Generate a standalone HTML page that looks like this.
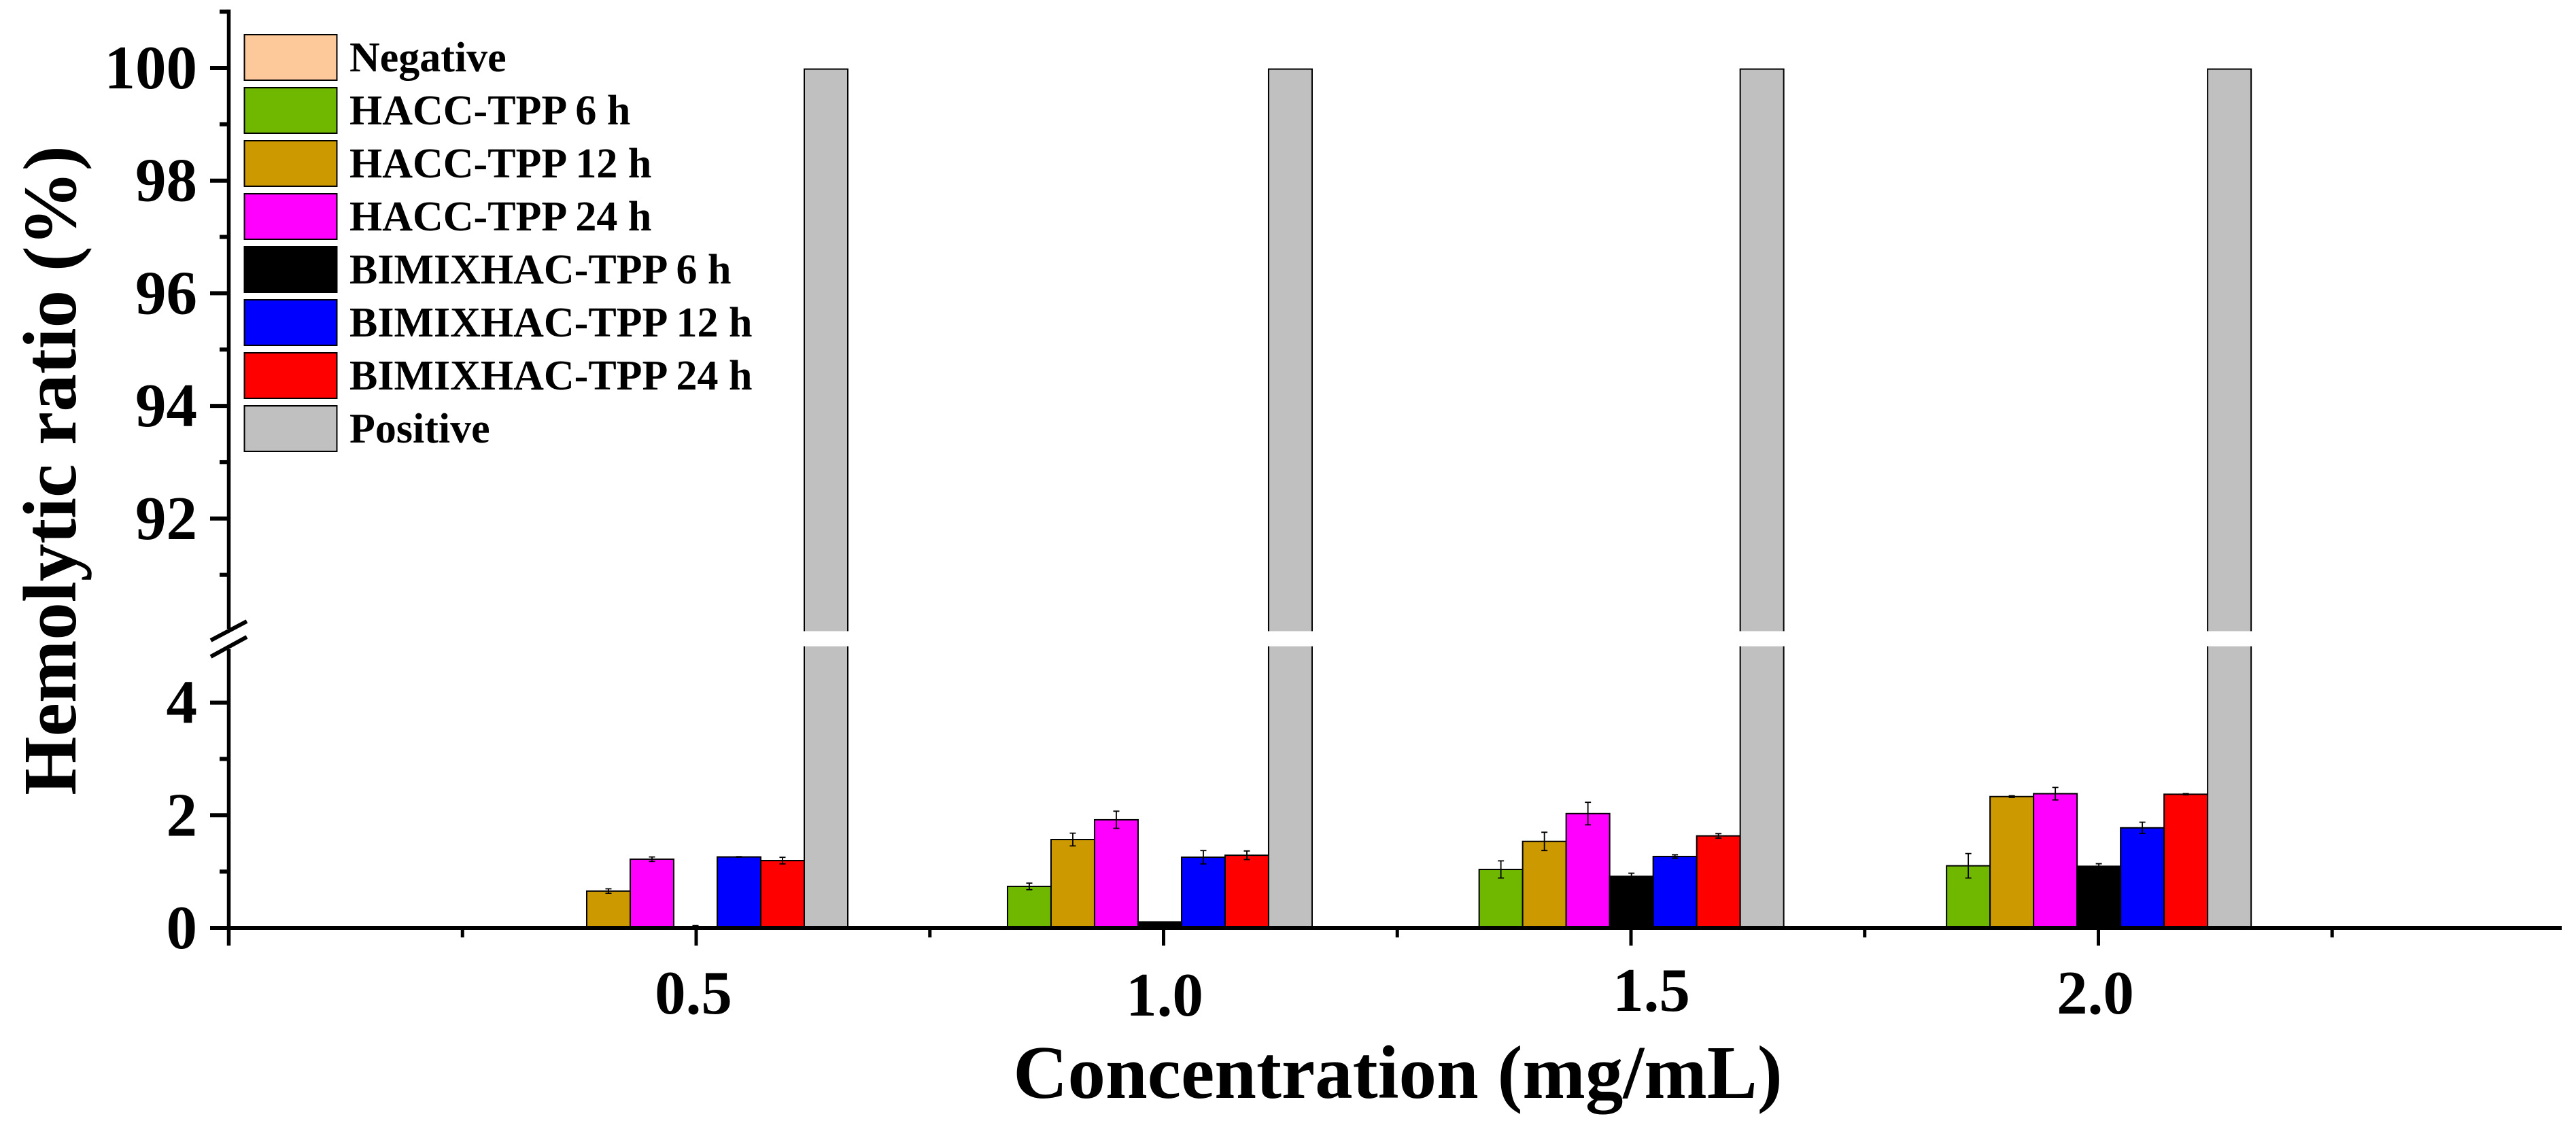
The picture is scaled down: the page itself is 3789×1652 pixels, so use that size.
<!DOCTYPE html>
<html lang="en">
<head>
<meta charset="utf-8">
<title>Hemolytic ratio chart</title>
<style>
  html, body { margin: 0; padding: 0; background: #fff; }
  svg { display: block; }
  text { font-family: "Liberation Serif", serif; font-weight: bold; fill: #000; }
</style>
</head>
<body>
<svg id="chart" xmlns="http://www.w3.org/2000/svg" width="3789" height="1652" viewBox="0 0 3789 1652">
  <rect x="0" y="0" width="3789" height="1652" fill="#fff"/>
  <g id="bars"></g>
  <g id="errors"></g>
  <g id="axes"></g>
  <g id="legend"></g>
  <text x="1020" y="1491" font-size="91" text-anchor="middle">0.5</text>
  <text x="1713" y="1494" font-size="91" text-anchor="middle">1.0</text>
  <text x="2429" y="1487" font-size="91" text-anchor="middle">1.5</text>
  <text x="3082" y="1491" font-size="91" text-anchor="middle">2.0</text>
  <text x="2056" y="1615" font-size="111" text-anchor="middle">Concentration (mg/mL)</text>
  <text transform="translate(111,692) rotate(-90)" font-size="111" text-anchor="middle">Hemolytic ratio (%)</text>
</svg>
<script>
// ---- data ----
const categories = ["0.5", "1.0", "1.5", "2.0"];
const groupX = [0.476, 0.9727, 1.4772, 1.9772];
const seriesNames = ["Negative", "HACC-TPP 6 h", "HACC-TPP 12 h", "HACC-TPP 24 h", "BIMIXHAC-TPP 6 h", "BIMIXHAC-TPP 12 h", "BIMIXHAC-TPP 24 h", "Positive"];
const seriesColors = ["#FDC99B", "#70B800", "#CC9900", "#FF00FF", "#000000", "#0000FF", "#FF0000", "#C0C0C0"];
const negative = [0, 0, 0, 0];
const hacc6 = [0, 0.737, 1.038, 1.103];
const hacc12 = [0.654, 1.569, 1.536, 2.332];
const hacc24 = [1.22, 1.92, 2.03, 2.383];
const bimix6 = [0, 0.105, 0.916, 1.094];
const bimix12 = [1.26, 1.255, 1.268, 1.777];
const bimix24 = [1.195, 1.29, 1.634, 2.373];
const positive = [99.98, 99.98, 99.98, 99.98];
const negativeErr = [0, 0, 0, 0];
const hacc6Err = [0, 0.058, 0.152, 0.217];
const hacc12Err = [0.04, 0.113, 0.162, 0.014];
const hacc24Err = [0.04, 0.152, 0.2, 0.111];
const bimix6Err = [0.04, 0, 0.055, 0.046];
const bimix12Err = [0.005, 0.118, 0.03, 0.1];
const bimix24Err = [0.058, 0.076, 0.04, 0.01];
const positiveErr = [0, 0, 0, 0];
const yMajorTicks = [0, 2, 4, 92, 94, 96, 98, 100];
const yMinorTicks = [1, 3, 91, 93, 95, 97, 99, 101];
const xMajorTicks = [0, 0.5, 1, 1.5, 2];
const xMinorTicks = [0.25, 0.75, 1.25, 1.75, 2.25];
const yBreakLow = 5;
const yBreakHigh = 90;

const allValues = [negative, hacc6, hacc12, hacc24, bimix6, bimix12, bimix24, positive];
const allErrors = [negativeErr, hacc6Err, hacc12Err, hacc24Err, bimix6Err, bimix12Err, bimix24Err, positiveErr];

// ---- axis functions ----
const NS = "http://www.w3.org/2000/svg";
const BAR_W = 64;
const UNIT = 82.85;
const BASE = 1365;
const X0 = 336.5;
function x(v) { return X0 + v * 1375; }
function y(v) { return v <= yBreakLow ? BASE - v * UNIT : 100 + (100 - v) * UNIT; }

function make(tag, attrs, parent) {
  const el = document.createElementNS(NS, tag);
  for (const k in attrs) el.setAttribute(k, attrs[k]);
  parent.appendChild(el);
  return el;
}

const barsG = document.getElementById("bars");
const errG = document.getElementById("errors");
const axesG = document.getElementById("axes");
const legendG = document.getElementById("legend");

// ---- bars ----
allValues.forEach(function (vals, s) {
  vals.forEach(function (v, g) {
    const left = x(groupX[g]) + (s - 4) * BAR_W;
    const slug = seriesNames[s].toLowerCase().replace(/[^a-z0-9]+/g, "-") + "-" + categories[g];
    if (v > yBreakHigh) {
      const lower = make("path", {
        d: "M" + left + " " + y(0) + "V" + y(yBreakLow) + "H" + (left + BAR_W) + "V" + y(0) + "Z",
        fill: seriesColors[s], stroke: "none"
      }, barsG);
      
      
      const upper = make("path", {
        d: "M" + left + " " + y(yBreakHigh) + "V" + y(v) + "H" + (left + BAR_W) + "V" + y(yBreakHigh) + "Z",
        fill: seriesColors[s], stroke: "none"
      }, barsG);
      
      
      const outline = make("path", {
        d: "M" + left + " " + y(0) + "V" + y(yBreakLow) +
           "M" + (left + BAR_W) + " " + y(0) + "V" + y(yBreakLow) +
           "M" + left + " " + y(yBreakHigh) + "V" + y(v) + "H" + (left + BAR_W) + "V" + y(yBreakHigh),
        fill: "none", stroke: "#000", "stroke-width": 2
      }, barsG);
      
      
    } else {
      const bar = make("rect", {
        x: left, y: y(v), width: BAR_W, height: y(0) - y(v),
        fill: seriesColors[s], stroke: "#000", "stroke-width": 2
      }, barsG);
      
      
    }
  });
});

// ---- error bars ----
allErrors.forEach(function (errs, s) {
  errs.forEach(function (e, g) {
    if (!e) return;
    const cx = x(groupX[g]) + (s - 3.5) * BAR_W;
    const v = allValues[s][g];
    const top = y(v + e);
    const bottom = Math.min(y(v - e), y(0));
    const eb = make("path", {
      d: "M" + cx + " " + top + "V" + bottom +
         "M" + (cx - 4.5) + " " + top + "H" + (cx + 4.5) +
         "M" + (cx - 4.5) + " " + bottom + "H" + (cx + 4.5),
      fill: "none", stroke: "#000", "stroke-width": 1.8
    }, errG);
    
    
  });
});

// ---- axes ----
const yAxisUpper = make("line", { x1: X0, x2: X0, y1: y(101) - 3, y2: 925, stroke: "#000", "stroke-width": 5.5 }, axesG);


const yAxisLower = make("line", { x1: X0, x2: X0, y1: 955, y2: 1391, stroke: "#000", "stroke-width": 5.5 }, axesG);


const xAxisLine = make("line", { x1: 309, x2: 3768, y1: y(0), y2: y(0), stroke: "#000", "stroke-width": 6 }, axesG);



const breakTop = make("line", { x1: 310, y1: 942, x2: 363, y2: 914, stroke: "#000", "stroke-width": 6 }, axesG);


const breakBottom = make("line", { x1: 310, y1: 966, x2: 363, y2: 937, stroke: "#000", "stroke-width": 6 }, axesG);



yMajorTicks.forEach(function (t) {
  if (t !== 0) {
    const tick = make("line", { x1: 309, x2: X0, y1: y(t), y2: y(t), stroke: "#000", "stroke-width": 6 }, axesG);
    
    
  }
  const label = make("text", { x: 290, y: y(t) + 30, "font-size": 91, "text-anchor": "end" }, axesG);
  label.textContent = String(t);
  
  
});
yMinorTicks.forEach(function (t) {
  const tick = make("line", { x1: 323, x2: X0, y1: y(t), y2: y(t), stroke: "#000", "stroke-width": 6 }, axesG);
  
  
});
xMajorTicks.forEach(function (t) {
  if (t === 0) return;
  const tick = make("line", { x1: x(t), x2: x(t), y1: y(0), y2: 1391, stroke: "#000", "stroke-width": 5 }, axesG);
  
  
});
xMinorTicks.forEach(function (t) {
  const tick = make("line", { x1: x(t), x2: x(t), y1: y(0), y2: 1379, stroke: "#000", "stroke-width": 5 }, axesG);
  
  
});

// ---- legend ----
seriesNames.forEach(function (name, i) {
  const top = 51 + i * 78;
  const swatch = make("rect", {
    x: 359.5, y: top, width: 136, height: 67,
    fill: seriesColors[i], stroke: "#000", "stroke-width": 2
  }, legendG);
  
  
  const label = make("text", { x: 514, y: top + 54, "font-size": 62 }, legendG);
  label.textContent = name;
  
  
});
</script>
</body>
</html>
